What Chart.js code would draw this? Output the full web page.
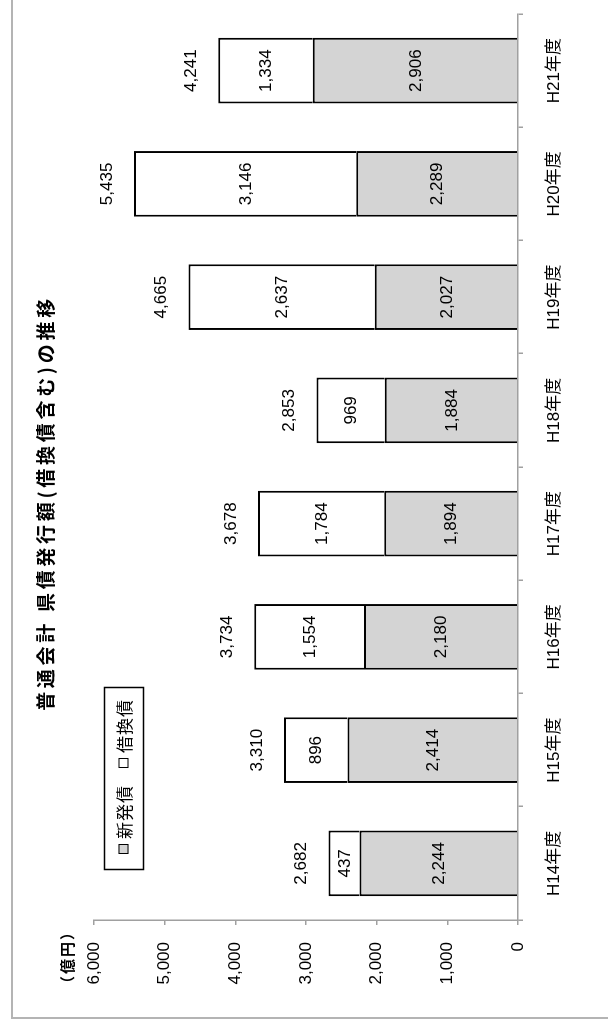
<!DOCTYPE html>
<html>
<head>
<meta charset="utf-8">
<script src="https://cdn.jsdelivr.net/npm/chart.js@4.4.1/dist/chart.umd.min.js"></script>
<style>
html,body{margin:0;padding:0;background:#fff;overflow:hidden;width:608px;height:1027px}
#frame{position:absolute;left:11px;top:-20px;width:700px;height:1039px;border-left:2px solid #b4b4b4;border-bottom:2px solid #b4b4b4;box-sizing:border-box}
#wrap{position:absolute;left:0;top:0;width:1027px;height:608px;transform-origin:0 0;transform:rotate(-90deg) translate(-1027px,0)}
</style>
</head>
<body>
<div id="frame"></div>
<div id="wrap"><canvas id="myChart" width="1027" height="608"></canvas></div>
<script>
var categories = ['H14年度','H15年度','H16年度','H17年度','H18年度','H19年度','H20年度','H21年度']
var shinpatsu = [2244,2414,2180,1894,1884,2027,2289,2906]
var karikae = [437,896,1554,1784,969,2637,3146,1334]
var totals = [2682,3310,3734,3678,2853,4665,5435,4241]
var yTicks = [0,1000,2000,3000,4000,5000,6000]

var title = '普通会計 県債発行額(借換債含む)の推移'
var unit = '（億円）'
var font = '"Liberation Sans", "Noto Sans CJK JP", sans-serif'
var jpFont = '"Noto Sans CJK JP", sans-serif'

function fmt(v){ return v.toLocaleString('en-US') }

// title, unit label, legend and the value labels
var extras = {
    id:'extras',
    afterDatasetsDraw:function(chart){
        var ctx = chart.ctx
        var spacing = 'letterSpacing' in ctx
        ctx.save()
        ctx.fillStyle = '#000'

        ctx.font = 'bold 19px ' + jpFont
        if (spacing) ctx.letterSpacing = '3.7px'
        ctx.textAlign = 'center'
        ctx.textBaseline = 'middle'
        ctx.fillText(title, 524, 46)

        ctx.font = 'bold 15px ' + jpFont
        if (spacing) ctx.letterSpacing = '2px'
        ctx.textAlign = 'left'
        ctx.fillText(unit, 36, 67)
        if (spacing) ctx.letterSpacing = '0px'

        // segment labels
        ctx.font = '17px ' + font
        ctx.textAlign = 'center'
        chart.data.datasets.forEach(function(ds, i){
            var meta = chart.getDatasetMeta(i)
            meta.data.forEach(function(bar, j){
                ctx.fillText(fmt(ds.data[j]), bar.x, (bar.y + bar.base)/2 + 1)
            })
        })
        // totals above each stack
        var top = chart.getDatasetMeta(chart.data.datasets.length - 1)
        top.data.forEach(function(bar, j){
            ctx.fillText(fmt(totals[j]), bar.x, bar.y - 27)
        })

        // legend box
        ctx.lineWidth = 1.5
        ctx.strokeStyle = '#000'
        ctx.strokeRect(157.5, 104.5, 182, 39)
        var starts = [173, 259]
        ctx.textAlign = 'left'
        ctx.font = '17px ' + jpFont
        if (spacing) ctx.letterSpacing = '1px'
        chart.data.datasets.forEach(function(ds, i){
            var x = starts[i]
            ctx.fillStyle = ds.backgroundColor
            ctx.fillRect(x, 118.5, 10, 10)
            ctx.lineWidth = 1
            ctx.strokeRect(x + 0.5, 119, 9, 9)
            ctx.fillStyle = '#000'
            ctx.fillText(ds.label, x + 15, 125)
        })
        ctx.restore()
    }
}

var axisGrid = {display:true, drawOnChartArea:false, drawTicks:true, tickLength:5, color:'#a0a0a0', lineWidth:1.5}
var axisBorder = {display:true, color:'#a0a0a0', width:1.5, z:1}

var chart = new Chart(document.getElementById('myChart').getContext('2d'),{
    type:'bar',
    data:{
        labels:categories,
        datasets:[
            {
                label:'新発債',
                data:shinpatsu,
                backgroundColor:'#d4d4d4',
                borderColor:'#000',
                borderWidth:2,
                borderSkipped:'start',
                categoryPercentage:1,
                barPercentage:0.58
            },
            {
                label:'借換債',
                data:karikae,
                backgroundColor:'#ffffff',
                borderColor:'#000',
                borderWidth:2,
                borderSkipped:'start',
                categoryPercentage:1,
                barPercentage:0.58
            }
        ]
    },
    options:{
        responsive:false,
        animation:false,
        devicePixelRatio:1,
        locale:'en-US',
        layout:{padding:{left:0, right:14, top:94, bottom:0}},
        plugins:{legend:{display:false}, title:{display:false}, tooltip:{enabled:false}},
        scales:{
            x:{
                stacked:true,
                grid:axisGrid,
                border:axisBorder,
                ticks:{color:'#000', font:{size:17, family:font}, padding:21, maxRotation:0, autoSkip:false},
                afterFit:function(s){ s.height = 90 }
            },
            y:{
                stacked:true,
                min:yTicks[0],
                max:yTicks[yTicks.length - 1],
                grid:axisGrid,
                border:axisBorder,
                ticks:{stepSize:yTicks[1] - yTicks[0], color:'#000', font:{size:17, family:font}, padding:17},
                afterFit:function(s){ s.width = 107 }
            }
        }
    },
    plugins:[extras]
})
</script>
</body>
</html>
